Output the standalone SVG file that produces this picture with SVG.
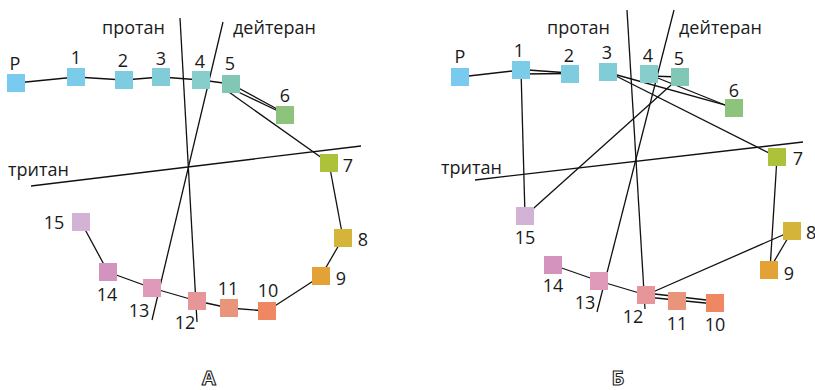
<svg xmlns="http://www.w3.org/2000/svg" width="815" height="390" viewBox="0 0 815 390">
<style>
.ln{stroke:#111;stroke-width:1.3;fill:none}
.t{font-family:"Open Sans","Liberation Sans",sans-serif;font-size:18px;fill:#1a1a1a}
.n{font-family:"Open Sans","Liberation Sans",sans-serif;font-size:18px;fill:#1a1a1a;text-anchor:middle}
.big{font-family:"Open Sans","Liberation Sans",sans-serif;font-size:20px;font-weight:bold;fill:#fff;stroke:#1a1a1a;stroke-width:1.1;text-anchor:middle}
</style>
<rect width="815" height="390" fill="#fff"/>
<g id="axes">
<line class="ln" x1="180" y1="18" x2="197" y2="322"/>
<line class="ln" x1="223" y1="22" x2="152" y2="320"/>
<line class="ln" x1="31" y1="186" x2="361" y2="146"/>
<line class="ln" x1="627" y1="10" x2="645" y2="309"/>
<line class="ln" x1="674" y1="10" x2="597" y2="312"/>
<line class="ln" x1="475" y1="180" x2="803" y2="142"/>
<text class="t" x="102" y="34">протан</text>
<text class="t" x="233" y="34">дейтеран</text>
<text class="t" x="8" y="176">тритан</text>
<text class="t" x="547" y="34">протан</text>
<text class="t" x="679" y="34">дейтеран</text>
<text class="t" x="441" y="174">тритан</text>
</g>
<g id="connectors">
<line class="ln" x1="16" y1="83" x2="76" y2="77"/>
<line class="ln" x1="76" y1="77" x2="124" y2="80"/>
<line class="ln" x1="124" y1="80" x2="161" y2="77"/>
<line class="ln" x1="161" y1="77" x2="201" y2="80"/>
<line class="ln" x1="201" y1="80" x2="231" y2="84"/>
<line class="ln" x1="231" y1="84" x2="278" y2="109.5"/>
<line class="ln" x1="234" y1="90" x2="278" y2="111"/>
<line class="ln" x1="226" y1="90" x2="329" y2="163"/>
<line class="ln" x1="329" y1="163" x2="343" y2="238"/>
<line class="ln" x1="343" y1="238" x2="321" y2="276"/>
<line class="ln" x1="321" y1="276" x2="267" y2="311"/>
<line class="ln" x1="267" y1="311" x2="229" y2="308"/>
<line class="ln" x1="229" y1="308" x2="197" y2="301"/>
<line class="ln" x1="197" y1="301" x2="152" y2="288"/>
<line class="ln" x1="152" y1="288" x2="108" y2="272"/>
<line class="ln" x1="108" y1="272" x2="81" y2="222"/>

<line class="ln" x1="460" y1="77" x2="521" y2="70"/>
<line class="ln" x1="521" y1="69.5" x2="570" y2="73"/>
<line class="ln" x1="521" y1="74" x2="570" y2="73.5"/>
<line class="ln" x1="521" y1="70" x2="525" y2="216"/>
<line class="ln" x1="525" y1="216" x2="680" y2="77"/>
<line class="ln" x1="649" y1="76" x2="680" y2="77"/>
<line class="ln" x1="649" y1="74.5" x2="730" y2="107"/>
<line class="ln" x1="608" y1="72.5" x2="730" y2="106.4"/>
<line class="ln" x1="608" y1="72" x2="777" y2="157"/>
<line class="ln" x1="777" y1="157" x2="770" y2="270"/>
<line class="ln" x1="792" y1="231" x2="769" y2="270"/>
<line class="ln" x1="792" y1="231" x2="646" y2="295"/>
<line class="ln" x1="646" y1="293" x2="715" y2="301"/>
<line class="ln" x1="646" y1="297" x2="715" y2="304"/>
<line class="ln" x1="646" y1="295" x2="599" y2="281"/>
<line class="ln" x1="599" y1="281" x2="553" y2="265"/>
</g>
<g id="A-P"><rect x="7" y="74" width="18" height="18" fill="#78cbef"/><text class="n" x="15" y="70">P</text></g>
<g id="A-1"><rect x="67" y="68" width="18" height="18" fill="#7bcce8"/><text class="n" x="76" y="64">1</text></g>
<g id="A-2"><rect x="115" y="71" width="18" height="18" fill="#7dcce0"/><text class="n" x="123" y="67">2</text></g>
<g id="A-3"><rect x="152" y="68" width="18" height="18" fill="#80cdd8"/><text class="n" x="161" y="65">3</text></g>
<g id="A-4"><rect x="192" y="71" width="18" height="18" fill="#86cdcb"/><text class="n" x="200" y="68">4</text></g>
<g id="A-5"><rect x="222" y="75" width="18" height="18" fill="#82c7b5"/><text class="n" x="230" y="70">5</text></g>
<g id="A-6"><rect x="276" y="106" width="18" height="18" fill="#8dc37a"/><text class="n" x="285" y="102">6</text></g>
<g id="A-7"><rect x="320" y="154" width="18" height="18" fill="#aec13b"/><text class="n" x="348" y="172">7</text></g>
<g id="A-8"><rect x="334" y="229" width="18" height="18" fill="#d4b53a"/><text class="n" x="363" y="246">8</text></g>
<g id="A-9"><rect x="312" y="267" width="18" height="18" fill="#e4a136"/><text class="n" x="341" y="285">9</text></g>
<g id="A-10"><rect x="258" y="302" width="18" height="18" fill="#ef8862"/><text class="n" x="268" y="297">10</text></g>
<g id="A-11"><rect x="220" y="299" width="18" height="18" fill="#e9957c"/><text class="n" x="228" y="295">11</text></g>
<g id="A-12"><rect x="188" y="292" width="18" height="18" fill="#e69599"/><text class="n" x="185" y="329">12</text></g>
<g id="A-13"><rect x="143" y="279" width="18" height="18" fill="#df9aba"/><text class="n" x="139" y="317">13</text></g>
<g id="A-14"><rect x="99" y="263" width="18" height="18" fill="#d493bf"/><text class="n" x="107" y="301">14</text></g>
<g id="A-15"><rect x="72" y="213" width="18" height="18" fill="#d2b3d6"/><text class="n" x="54" y="229">15</text></g>

<g id="B-P"><rect x="451" y="68" width="18" height="18" fill="#78cbef"/><text class="n" x="460" y="63">P</text></g>
<g id="B-1"><rect x="512" y="61" width="18" height="18" fill="#7bcce8"/><text class="n" x="519" y="57">1</text></g>
<g id="B-2"><rect x="561" y="65" width="18" height="18" fill="#7dcce0"/><text class="n" x="569" y="62">2</text></g>
<g id="B-3"><rect x="599" y="63" width="18" height="18" fill="#80cdd8"/><text class="n" x="607" y="59">3</text></g>
<g id="B-4"><rect x="640" y="65" width="18" height="18" fill="#86cdcb"/><text class="n" x="648" y="62">4</text></g>
<g id="B-5"><rect x="671" y="68" width="18" height="18" fill="#82c7b5"/><text class="n" x="679" y="65">5</text></g>
<g id="B-6"><rect x="725" y="99" width="18" height="18" fill="#8dc37a"/><text class="n" x="734" y="97">6</text></g>
<g id="B-7"><rect x="768" y="148" width="18" height="18" fill="#aec13b"/><text class="n" x="798" y="165">7</text></g>
<g id="B-8"><rect x="783" y="222" width="18" height="18" fill="#d4b53a"/><text class="t" x="806" y="239">8</text></g>
<g id="B-9"><rect x="760" y="261" width="18" height="18" fill="#e4a136"/><text class="n" x="789" y="280">9</text></g>
<g id="B-10"><rect x="706" y="294" width="18" height="18" fill="#ef8862"/><text class="n" x="715" y="331">10</text></g>
<g id="B-11"><rect x="668" y="292" width="18" height="18" fill="#e9957c"/><text class="n" x="677" y="330">11</text></g>
<g id="B-12"><rect x="637" y="286" width="18" height="18" fill="#e69599"/><text class="n" x="633" y="323">12</text></g>
<g id="B-13"><rect x="590" y="272" width="18" height="18" fill="#df9aba"/><text class="n" x="585" y="309">13</text></g>
<g id="B-14"><rect x="544" y="256" width="18" height="18" fill="#d493bf"/><text class="n" x="553" y="292">14</text></g>
<g id="B-15"><rect x="516" y="207" width="18" height="18" fill="#d2b3d6"/><text class="n" x="525" y="244">15</text></g>

<g id="captions">
<text class="big" x="209" y="385">А</text>
<text class="big" x="618" y="385">Б</text>
</g>
</svg>
